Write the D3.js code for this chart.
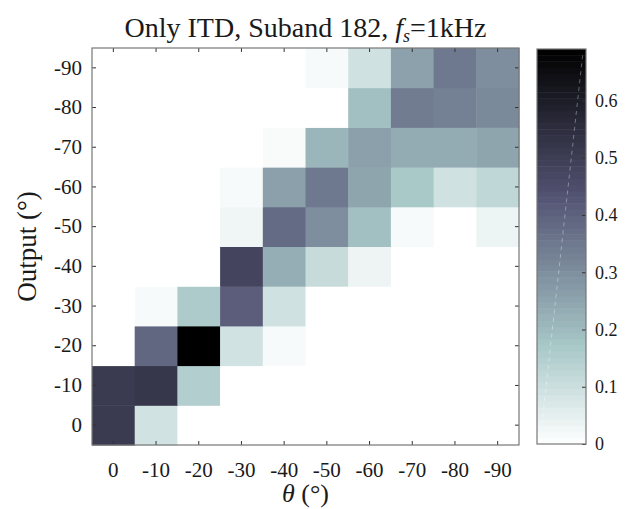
<!DOCTYPE html>
<html><head><meta charset="utf-8">
<script src="https://cdn.jsdelivr.net/npm/d3@7"></script>
<style>
body{margin:0;background:#fff}
text{font-family:"Liberation Serif","DejaVu Serif",serif;fill:#1a1a1a}
</style>
</head><body>
<svg id="chart" width="632" height="509"></svg>
<script>
// ---- data ----
const thetaLabels = ["0","-10","-20","-30","-40","-50","-60","-70","-80","-90"];
const outputLabels = ["0","-10","-20","-30","-40","-50","-60","-70","-80","-90"];
// rows: output (0 ... -90), columns: theta (0 ... -90)
const row0   = [0.51, 0.09, 0,    0,     0,     0,     0,     0,     0,     0];
const rowM10 = [0.51, 0.52, 0.15, 0,     0,     0,     0,     0,     0,     0];
const rowM20 = [0,    0.39, 0.69, 0.09,  0.015, 0,     0,     0,     0,     0];
const rowM30 = [0,    0.015,0.16, 0.41,  0.094, 0,     0,     0,     0,     0];
const rowM40 = [0,    0,    0,    0.48,  0.23,  0.11,  0.034, 0,     0,     0];
const rowM50 = [0,    0,    0,    0.03,  0.38,  0.30,  0.19,  0.015, 0,     0.035];
const rowM60 = [0,    0,    0,    0.015, 0.26,  0.35,  0.25,  0.17,  0.093, 0.124];
const rowM70 = [0,    0,    0,    0,     0.012, 0.21,  0.26,  0.235, 0.235, 0.25];
const rowM80 = [0,    0,    0,    0,     0,     0,     0.19,  0.34,  0.33,  0.31];
const rowM90 = [0,    0,    0,    0,     0,     0.015, 0.094, 0.257, 0.35,  0.30];
const values = [row0,rowM10,rowM20,rowM30,rowM40,rowM50,rowM60,rowM70,rowM80,rowM90];
const colorbarTicks = [0,0.1,0.2,0.3,0.4,0.5,0.6];
const vmin = 0, vmax = 0.69;

// ---- colormap: flipped MATLAB "bone" ----
function bone(t){
  t = Math.max(0, Math.min(1, t));
  const c = v => Math.max(0, Math.min(1, v));
  const hr = c(t/0.375), hg = c((t-0.375)/0.375), hb = c((t-0.75)/0.25);
  return [(7*t+hb)/8, (7*t+hg)/8, (7*t+hr)/8];
}
function color(v){
  const t = 1 - (v - vmin)/(vmax - vmin);
  const [r,g,b] = bone(t);
  return d3.rgb(r*255, g*255, b*255).formatHex();
}

const svg = d3.select("#chart");
const L = 92, R = 519, T = 48, B = 445;
const x = d3.scaleBand().domain(thetaLabels).range([L, R]);
const y = d3.scaleBand().domain(outputLabels).range([B, T]);

const cells = [];
values.forEach((row, i) => row.forEach((v, j) => cells.push({o: outputLabels[i], t: thetaLabels[j], v})));
svg.append("g").selectAll("rect").data(cells).join("rect")
  .attr("x", d => x(d.t)).attr("y", d => y(d.o))
  .attr("width", x.bandwidth() + 0.5).attr("height", y.bandwidth() + 0.5)
  .attr("fill", d => color(d.v));

const tickCol = "#333";
function styleAxis(g, showText){
  g.select(".domain").remove();
  g.selectAll(".tick line").attr("stroke", tickCol).attr("stroke-width", 1);
  g.selectAll(".tick text").attr("font-size", 21).attr("fill", "#1a1a1a")
    .style("font-family", '"Liberation Serif","DejaVu Serif",serif');
  if (!showText) g.selectAll(".tick text").remove();
}
svg.append("g").attr("transform", `translate(0,${B})`)
  .call(d3.axisBottom(x).tickSizeInner(-4).tickSizeOuter(0).tickPadding(17))
  .call(g => styleAxis(g, true));
svg.append("g").attr("transform", `translate(0,${T})`)
  .call(d3.axisTop(x).tickSizeInner(-4).tickSizeOuter(0))
  .call(g => styleAxis(g, false));
svg.append("g").attr("transform", `translate(${L},0)`)
  .call(d3.axisLeft(y).tickSizeInner(-4).tickSizeOuter(0).tickPadding(10))
  .call(g => styleAxis(g, true));
svg.append("g").attr("transform", `translate(${R},0)`)
  .call(d3.axisRight(y).tickSizeInner(-4).tickSizeOuter(0))
  .call(g => styleAxis(g, false));

svg.append("rect").attr("x", L).attr("y", T).attr("width", R-L).attr("height", B-T)
  .attr("fill", "none").attr("stroke", "#777").attr("stroke-width", 1.2);

// ---- colorbar ----
const CL = 537, CR = 586, CT = 49, CB = 444;
const cy = d3.scaleLinear().domain([vmin, vmax]).range([CB, CT]);
const nLevels = 64;
const levels = d3.range(nLevels);
svg.append("g").selectAll("rect").data(levels).join("rect")
  .attr("x", CL).attr("width", CR - CL)
  .attr("y", k => cy(vmin + (k+1)*(vmax-vmin)/nLevels))
  .attr("height", k => cy(vmin + k*(vmax-vmin)/nLevels) - cy(vmin + (k+1)*(vmax-vmin)/nLevels) + 0.5)
  .attr("fill", k => color(vmin + (k+0.5)*(vmax-vmin)/nLevels));
svg.append("line").attr("x1", CL+3).attr("y1", CB-3).attr("x2", CR-3).attr("y2", CT+3)
  .attr("stroke", "#fff").attr("stroke-opacity", 0.35).attr("stroke-dasharray", "4,4");
svg.append("g").attr("transform", `translate(${CR},0)`)
  .call(d3.axisRight(cy).tickValues(colorbarTicks).tickFormat(d => d === 0 ? "0" : d3.format(".1f")(d))
    .tickSizeInner(-4).tickSizeOuter(0).tickPadding(9))
  .call(g => { styleAxis(g, true); g.selectAll(".tick text").attr("font-size", 18); });
svg.append("rect").attr("x", CL).attr("y", CT).attr("width", CR-CL).attr("height", CB-CT)
  .attr("fill", "none").attr("stroke", "#777").attr("stroke-width", 1.2);

// ---- titles ----
const title = svg.append("text").attr("x", (L+R)/2).attr("y", 37)
  .attr("text-anchor", "middle").attr("font-size", 28);
title.append("tspan").text("Only ITD, Suband 182, ");
title.append("tspan").attr("font-style", "italic").text("f");
title.append("tspan").attr("font-style", "italic").attr("font-size", 18).attr("dy", 5).text("s");
title.append("tspan").attr("dy", -5).text("=1kHz");

const xl = svg.append("text").attr("x", (L+R)/2).attr("y", 502)
  .attr("text-anchor", "middle").attr("font-size", 26);
xl.append("tspan").attr("font-style", "italic").text("θ");
xl.append("tspan").text(" (°)");

svg.append("text").attr("transform", `translate(36,${(T+B)/2}) rotate(-90)`)
  .attr("text-anchor", "middle").attr("font-size", 27).text("Output (°)");
</script>
</body></html>
